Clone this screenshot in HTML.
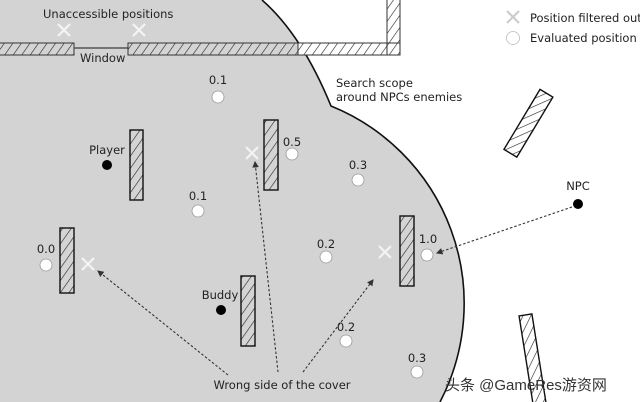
<!DOCTYPE html>
<html><head><meta charset="utf-8"><style>
html,body{margin:0;padding:0;background:#fff;}
svg{display:block;font-family:"DejaVu Sans","Liberation Sans",sans-serif;}
</style></head><body>
<svg width="640" height="402" viewBox="0 0 640 402" xmlns="http://www.w3.org/2000/svg">
<defs>
<pattern id="h" width="7" height="7" patternUnits="userSpaceOnUse" patternTransform="rotate(35)">
<rect width="7" height="7" fill="#d4d4d4"/>
<line x1="0" y1="0" x2="0" y2="7" stroke="#222" stroke-width="1.2"/>
</pattern>
<pattern id="hw" width="7" height="7" patternUnits="userSpaceOnUse" patternTransform="rotate(35)">
<rect width="7" height="7" fill="#fff"/>
<line x1="0" y1="0" x2="0" y2="7" stroke="#222" stroke-width="1.2"/>
</pattern>
<marker id="a" markerWidth="6" markerHeight="6" refX="5" refY="3" orient="auto"><path d="M0,0 L6,3 L0,6 z" fill="#333"/></marker>
</defs>
<path d="M0,0 L262,0 Q302,35 331,106 A213,213 0 0 1 440,402 L0,402 Z" fill="#d3d3d3" stroke="none"/>
<path d="M262,0 Q302,35 331,106 A213,213 0 0 1 440,402" fill="none" stroke="#111" stroke-width="1.6"/>
<!-- walls -->
<rect x="-2" y="43" width="76" height="12" fill="url(#h)" stroke="#333"/>
<line x1="74" y1="48" x2="128" y2="48" stroke="#555" stroke-width="1.5"/>
<rect x="128" y="43" width="272" height="12" fill="url(#hw)" stroke="#333"/>
<rect x="128" y="43" width="170" height="12" fill="url(#h)" stroke="#333"/>
<rect x="387" y="-2" width="13" height="57" fill="url(#hw)" stroke="#333"/>
<rect x="128" y="43" width="272" height="12" fill="none" stroke="#333"/>
<!-- covers -->
<rect x="130" y="130" width="13" height="70" fill="url(#h)" stroke="#111" stroke-width="1.4"/>
<rect x="264" y="120" width="14" height="70" fill="url(#h)" stroke="#111" stroke-width="1.4"/>
<rect x="60" y="228" width="14" height="65" fill="url(#h)" stroke="#111" stroke-width="1.4"/>
<rect x="400" y="216" width="14" height="70" fill="url(#h)" stroke="#111" stroke-width="1.4"/>
<rect x="241" y="276" width="14" height="70" fill="url(#h)" stroke="#111" stroke-width="1.4"/>
<rect x="521" y="88" width="15" height="70" fill="url(#hw)" stroke="#111" stroke-width="1.4" transform="rotate(31 528 123)"/>
<rect x="519" y="315" width="13" height="95" fill="url(#hw)" stroke="#111" stroke-width="1.4" transform="rotate(-9 525 315)"/>
<!-- X marks -->
<g stroke="#f4f4f4" stroke-width="2.2">
<path d="M58,24 L70,36 M70,24 L58,36"/>
<path d="M133,24 L145,36 M145,24 L133,36"/>
<path d="M246,147 L258,159 M258,147 L246,159"/>
<path d="M82,258 L94,270 M94,258 L82,270"/>
<path d="M379,246 L391,258 M391,246 L379,258"/>
</g>
<path d="M507,11 L519,23 M519,11 L507,23" stroke="#ccc" stroke-width="2.2"/>
<!-- circles -->
<g fill="#fff" stroke="#999" stroke-width="0.8">
<circle cx="218" cy="97" r="6"/><circle cx="292" cy="154" r="6"/><circle cx="358" cy="180" r="6"/>
<circle cx="198" cy="211" r="6"/><circle cx="46" cy="265" r="6"/><circle cx="326" cy="257" r="6"/>
<circle cx="427" cy="255" r="6"/><circle cx="346" cy="341" r="6"/><circle cx="417" cy="372" r="6"/>
<circle cx="513" cy="38" r="6.5" stroke="#bbb"/>
</g>
<g fill="#000"><circle cx="107" cy="165" r="5"/><circle cx="578" cy="204" r="5"/><circle cx="221" cy="310" r="5"/></g>
<!-- arrows -->
<g stroke="#333" stroke-width="1.1" stroke-dasharray="2.5,2" fill="none" marker-end="url(#a)">
<path d="M572,207 L437,253"/>
<path d="M228,375 L98,271"/>
<path d="M278,372 L255,162"/>
<path d="M303,372 L373,280"/>
</g>
<!-- text -->
<g fill="#222" font-size="11.5">
<text x="43" y="18">Unaccessible positions</text>
<text x="80" y="62">Window</text>
<text x="218" y="84" text-anchor="middle">0.1</text>
<text x="292" y="146" text-anchor="middle">0.5</text>
<text x="358" y="169" text-anchor="middle">0.3</text>
<text x="198" y="200" text-anchor="middle">0.1</text>
<text x="46" y="253" text-anchor="middle">0.0</text>
<text x="326" y="248" text-anchor="middle">0.2</text>
<text x="428" y="243" text-anchor="middle">1.0</text>
<text x="346" y="331" text-anchor="middle">0.2</text>
<text x="417" y="362" text-anchor="middle">0.3</text>
<text x="107" y="154" text-anchor="middle">Player</text>
<text x="220" y="299" text-anchor="middle">Buddy</text>
<text x="578" y="190" text-anchor="middle">NPC</text>
<text x="282" y="389" text-anchor="middle">Wrong side of the cover</text>
<text x="336" y="87">Search scope</text>
<text x="336" y="101">around NPCs enemies</text>
<text x="530" y="22">Position filtered out</text>
<text x="530" y="42">Evaluated position</text>
</g>
<text x="445" y="390" font-size="15" fill="#333" font-family="'Liberation Sans','Noto Sans CJK SC',sans-serif">头条 @GameRes游资网</text>
</svg>
</body></html>
